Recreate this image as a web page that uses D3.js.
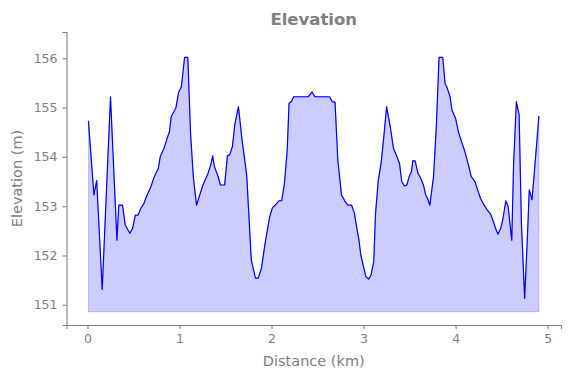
<!DOCTYPE html>
<html lang="en">
<head>
    <meta charset="UTF-8">
    <script src="https://cdnjs.cloudflare.com/ajax/libs/d3/7.8.5/d3.min.js"></script>
    <style>
        body { margin: 0; background: white; }
        text { font-family: "DejaVu Sans", sans-serif; fill: #808080; }
        .axis path, .axis line { stroke: #808080; stroke-width: 1.1px; }
        .axis text { font-size: 12.5px; fill: #808080; }
    </style>
</head>
<body>
<svg width="571" height="378"></svg>
<script>
// distance along the track (km) and elevation (m)
const distKm = [
    0.01, 0.07, 0.10, 0.16, 0.25, 0.32, 0.34, 0.38, 0.41, 0.46, 0.49, 0.52, 0.55, 0.58, 0.61,
    0.64, 0.69, 0.72, 0.77, 0.79, 0.83, 0.87, 0.89, 0.91, 0.96, 0.99, 1.02, 1.055, 1.09, 1.12,
    1.15, 1.185, 1.22, 1.255, 1.31, 1.34, 1.36, 1.38, 1.42, 1.445, 1.49, 1.52, 1.545, 1.575, 1.60,
    1.64, 1.68, 1.73, 1.78, 1.825, 1.855, 1.89, 1.93, 1.98, 2.01, 2.04, 2.08, 2.11, 2.14, 2.17,
    2.19, 2.215, 2.24, 2.40, 2.44, 2.47, 2.63, 2.66, 2.69, 2.72, 2.76, 2.80, 2.83, 2.87, 2.90,
    2.93, 2.95, 2.97, 3.00, 3.025, 3.055, 3.08, 3.11, 3.13, 3.16, 3.19, 3.22, 3.25, 3.29, 3.325,
    3.355, 3.39, 3.415, 3.445, 3.47, 3.495, 3.52, 3.535, 3.56, 3.59, 3.62, 3.65, 3.675, 3.70, 3.72,
    3.76, 3.79, 3.82, 3.86, 3.885, 3.91, 3.94, 3.96, 4.00, 4.03, 4.07, 4.10, 4.135, 4.17, 4.21,
    4.24, 4.27, 4.31, 4.345, 4.38, 4.41, 4.44, 4.46, 4.49, 4.515, 4.545, 4.57, 4.61, 4.63, 4.66,
    4.69, 4.715, 4.75, 4.78, 4.80, 4.83, 4.86, 4.905
];
const elevM = [
    154.73, 153.23, 153.52, 151.31, 155.22, 152.31, 153.02, 153.02, 152.62, 152.45, 152.55, 152.82, 152.82, 152.96, 153.04,
    153.19, 153.40, 153.57, 153.77, 154.00, 154.17, 154.40, 154.51, 154.82, 154.99, 155.31, 155.42, 156.02, 156.02, 154.48,
    153.60, 153.02, 153.23, 153.43, 153.67, 153.84, 154.02, 153.80, 153.60, 153.43, 153.43, 154.02, 154.04, 154.21, 154.65,
    155.02, 154.34, 153.63, 151.91, 151.54, 151.54, 151.74, 152.25, 152.79, 152.97, 153.02, 153.11, 153.11, 153.46, 154.14,
    155.09, 155.12, 155.22, 155.22, 155.32, 155.22, 155.22, 155.12, 155.11, 153.94, 153.23, 153.09, 153.02, 153.02, 152.86,
    152.52, 152.31, 152.01, 151.77, 151.57, 151.52, 151.60, 151.87, 152.86, 153.53, 153.87, 154.41, 155.02, 154.61, 154.17,
    154.04, 153.87, 153.50, 153.41, 153.43, 153.60, 153.70, 153.92, 153.92, 153.67, 153.57, 153.43, 153.23, 153.13, 153.02,
    153.60, 154.61, 156.02, 156.02, 155.49, 155.39, 155.22, 154.95, 154.78, 154.51, 154.28, 154.11, 153.87, 153.60, 153.50,
    153.33, 153.16, 153.02, 152.92, 152.84, 152.69, 152.52, 152.43, 152.55, 152.75, 153.11, 153.00, 152.31, 153.87, 155.12,
    154.85, 152.65, 151.13, 152.38, 153.33, 153.13, 153.80, 154.83
];
const fillBase = 150.86;
const xTicks = [0, 1, 2, 3, 4, 5];
const yTicks = [151, 152, 153, 154, 155, 156];

const svg = d3.select("svg");
const plotL = 66.5, plotR = 561, plotT = 32, plotB = 325;

const x = d3.scaleLinear().domain([-0.228, 5.145]).range([plotL, plotR]);
const y = d3.scaleLinear().domain([150.59, 156.533]).range([plotB, plotT]);

const pts = distKm.map((d, i) => ({ d: d, e: elevM[i] }));

const area = d3.area()
    .x(p => x(p.d))
    .y0(y(fillBase))
    .y1(p => y(p.e));

svg.append("path")
    .datum(pts)
    .attr("d", area)
    .style("fill", "blue")
    .style("fill-opacity", 0.2)
    .style("stroke", "blue")
    .style("stroke-opacity", 0.2)
    .style("stroke-width", 1);

const line = d3.line()
    .x(p => x(p.d))
    .y(p => y(p.e));

svg.append("path")
    .datum(pts)
    .attr("d", line)
    .style("fill", "none")
    .style("stroke", "blue")
    .style("stroke-width", 1.2)
    .style("stroke-linejoin", "round");

// axes (left and bottom spines only)
svg.append("g")
    .attr("class", "axis")
    .attr("transform", `translate(0,${plotB})`)
    .call(d3.axisBottom(x).tickValues(xTicks).tickFormat(d3.format("d")).tickSizeOuter(0).tickSize(4).tickPadding(5));

svg.append("g")
    .attr("class", "axis")
    .attr("transform", `translate(${plotL},0)`)
    .call(d3.axisLeft(y).tickValues(yTicks).tickFormat(d3.format("d")).tickSizeOuter(0).tickSize(4).tickPadding(5));

svg.append("text")
    .attr("x", (plotL + plotR) / 2)
    .attr("y", 24.5)
    .attr("text-anchor", "middle")
    .style("font-size", "16.5px")
    .style("font-weight", "bold")
    .text("Elevation");

svg.append("text")
    .attr("x", (plotL + plotR) / 2)
    .attr("y", 366)
    .attr("text-anchor", "middle")
    .style("font-size", "14.5px")
    .text("Distance (km)");

svg.append("text")
    .attr("transform", `translate(21.5,${(plotT + plotB) / 2}) rotate(-90)`)
    .attr("text-anchor", "middle")
    .style("font-size", "14.5px")
    .text("Elevation (m)");
</script>
</body>
</html>
